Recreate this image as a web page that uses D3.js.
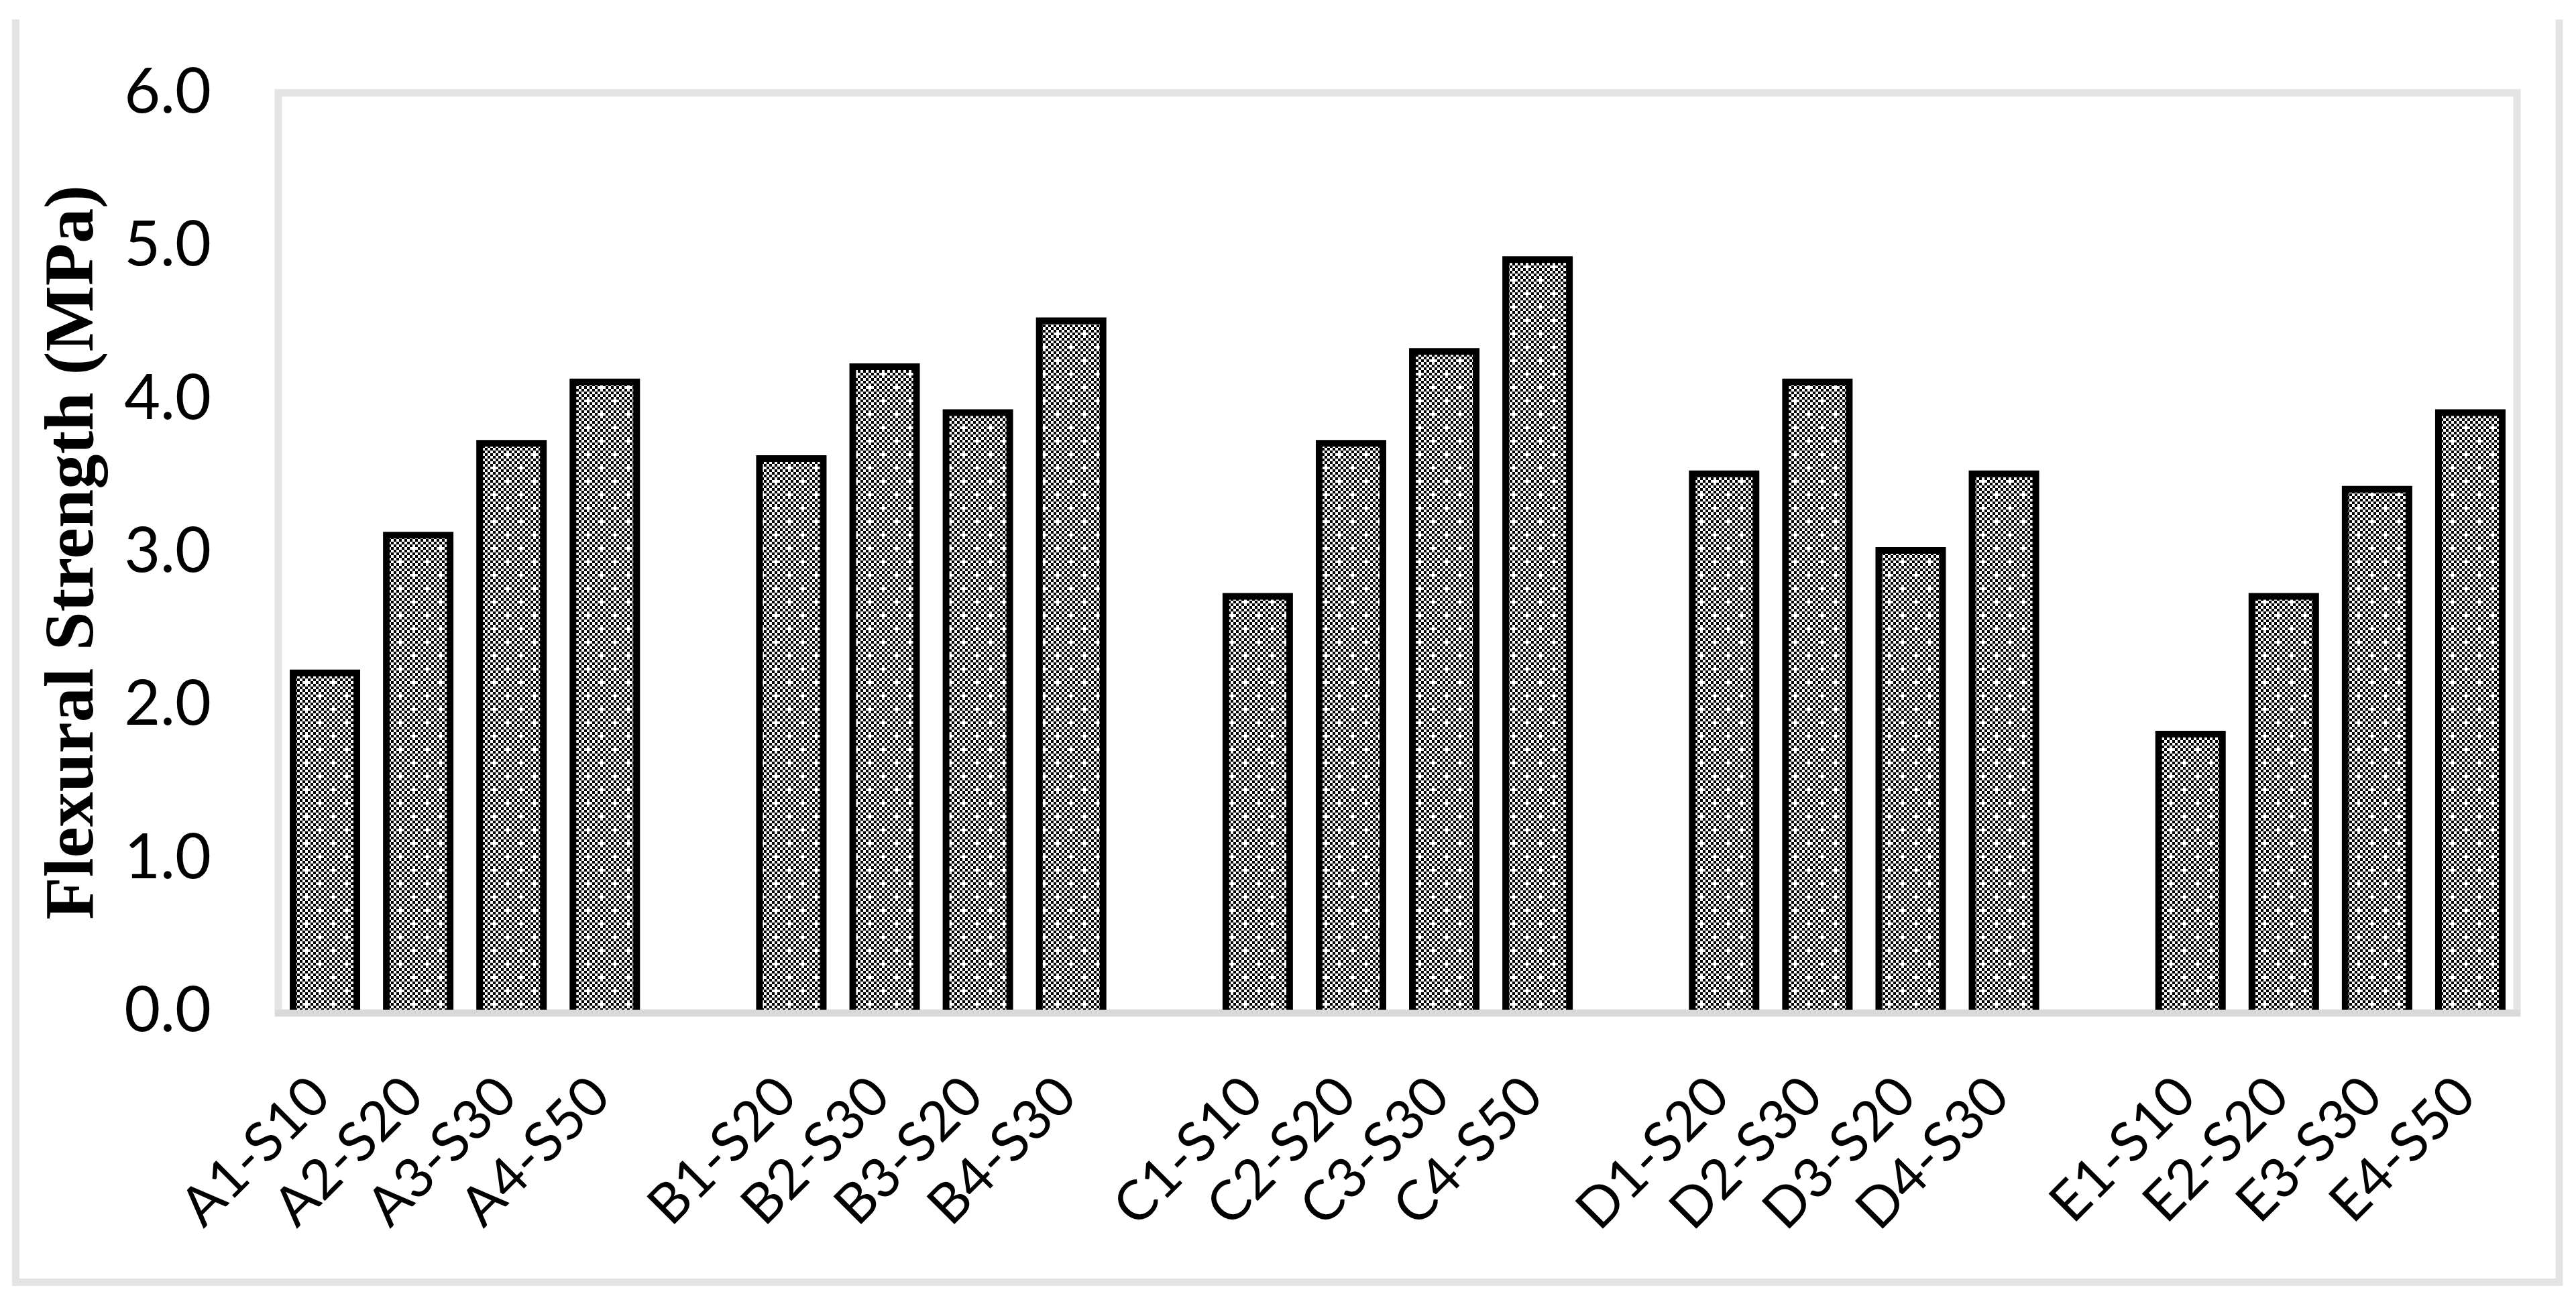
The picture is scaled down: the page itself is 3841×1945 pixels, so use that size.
<!DOCTYPE html>
<html>
<head>
<meta charset="utf-8">
<script src="https://cdn.jsdelivr.net/npm/d3@7"></script>
<style>
  body { margin: 0; background: #fff; }
  svg { display: block; }
</style>
</head>
<body>
<div id="chart"></div>
<script>
// mixes, in chart order; "" = empty slot between the groups
const categories = ["A1-S10", "A2-S20", "A3-S30", "A4-S50", "",
                    "B1-S20", "B2-S30", "B3-S20", "B4-S30", "",
                    "C1-S10", "C2-S20", "C3-S30", "C4-S50", "",
                    "D1-S20", "D2-S30", "D3-S20", "D4-S30", "",
                    "E1-S10", "E2-S20", "E3-S30", "E4-S50"];
const strength = [2.2, 3.1, 3.7, 4.1, null,
                  3.6, 4.2, 3.9, 4.5, null,
                  2.7, 3.7, 4.3, 4.9, null,
                  3.5, 4.1, 3.0, 3.5, null,
                  1.8, 2.7, 3.4, 3.9];
const yTicks = [0, 1, 2, 3, 4, 5, 6];
const yTitle = "Flexural Strength (MPa)";

function makeStrengthChart() {
    let W = 3841, H = 1945;
    let margin = { top: 136, right: 88, bottom: 439, left: 415 },
        width = W - margin.left - margin.right,
        height = H - margin.top - margin.bottom;

    let svg = d3.select("#chart").append("svg")
        .attr("width", W)
        .attr("height", H);

    // hatch fill: checkerboard with white plus marks
    let cell = 4, n = 10;
    let pat = svg.append("defs").append("pattern")
        .attr("id", "checker")
        .attr("patternUnits", "userSpaceOnUse")
        .attr("width", cell * n)
        .attr("height", cell * n);
    pat.append("rect").attr("width", cell * n).attr("height", cell * n).attr("fill", "#fff");
    for (let i = 0; i < n; i++) {
        for (let j = 0; j < n; j++) {
            if ((i + j) % 2) continue;
            if ((i === 0 && j === 0) || (i === 5 && j === 5)) continue;
            pat.append("rect")
                .attr("x", i * cell).attr("y", j * cell)
                .attr("width", cell).attr("height", cell)
                .attr("fill", "#000");
        }
    }

    // outer chart border (top edge cropped off)
    svg.append("path")
        .attr("d", `M23.5,29V1912.5H3816V29`)
        .attr("fill", "none")
        .attr("stroke", "#e4e4e4")
        .attr("stroke-width", 11);

    let g = svg.append("g")
        .attr("transform", `translate(${margin.left},${margin.top})`);

    let x = d3.scaleBand()
        .domain(d3.range(categories.length))
        .range([0, width])
        .paddingInner(0.317)
        .paddingOuter(0.1585);
    let y = d3.scaleLinear()
        .domain([0, 6])
        .range([height, 0]);

    // plot area frame
    g.append("rect")
        .attr("x", 0)
        .attr("y", 2.5)
        .attr("width", width)
        .attr("height", height + 2.5)
        .attr("fill", "none")
        .attr("stroke", "#e4e4e4")
        .attr("stroke-width", 11);

    let bars = g.selectAll(".bar")
        .data(strength.map((v, i) => ({ i, v })).filter(d => d.v !== null))
        .join("g")
        .attr("class", "bar");

    bars.append("rect")
        .attr("x", d => x(d.i))
        .attr("y", d => y(d.v))
        .attr("width", x.bandwidth())
        .attr("height", d => y(0) - y(d.v))
        .attr("fill", "url(#checker)");

    // outline on three sides, the axis covers the bottom
    bars.append("path")
        .attr("d", d => `M${x(d.i)},${y(0)}V${y(d.v)}H${x(d.i) + x.bandwidth()}V${y(0)}`)
        .attr("fill", "none")
        .attr("stroke", "#000")
        .attr("stroke-width", 10)
        .attr("stroke-linejoin", "miter");

    // category axis line
    g.append("line")
        .attr("x1", -5).attr("x2", width + 5)
        .attr("y1", height + 5).attr("y2", height + 5)
        .attr("stroke", "#d9d9d9")
        .attr("stroke-width", 10);

    // Y axis
    g.append("g")
        .call(d3.axisLeft(y).tickValues(yTicks).tickFormat(d3.format(".1f")).tickSize(0).tickPadding(100))
        .call(a => a.select(".domain").remove())
        .call(a => a.selectAll(".tick text")
            .attr("dy", "0.34em")
            .attr("fill", "#000")
            .attr("font-family", "Lato, 'Open Sans', sans-serif")
            .attr("font-size", 93));

    // X axis
    g.append("g")
        .attr("transform", `translate(0,${height})`)
        .call(d3.axisBottom(x).tickFormat(i => categories[i]).tickSize(0))
        .call(a => a.select(".domain").remove())
        .call(a => a.selectAll(".tick text")
            .attr("y", 0)
            .attr("dy", 0)
            .attr("text-anchor", "end")
            .attr("transform", "translate(12,134) rotate(-45)")
            .attr("fill", "#000")
            .attr("font-family", "Lato, 'Open Sans', sans-serif")
            .attr("font-size", 82));

    svg.append("text")
        .attr("transform", `translate(138,824) rotate(-90)`)
        .attr("text-anchor", "middle")
        .attr("font-family", "'Liberation Serif', 'Times New Roman', serif")
        .attr("font-weight", "bold")
        .attr("font-size", 104)
        .attr("fill", "#000")
        .text(yTitle);
}

makeStrengthChart();
</script>
</body>
</html>
